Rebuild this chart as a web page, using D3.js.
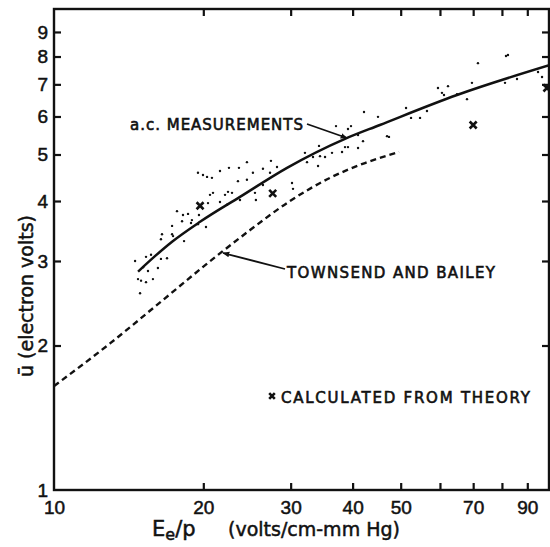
<!DOCTYPE html>
<html>
<head>
<meta charset="utf-8">
<script src="https://cdn.jsdelivr.net/npm/d3@7"></script>
<style>
  body { margin: 0; background: #fff; }
  svg { display: block; font-family: "DejaVu Sans", sans-serif; }
  .axis text { font-size: 19px; fill: #111; stroke: #111; stroke-width: 0.5; }
  .axis path, .axis line { stroke: #111; stroke-width: 2.2; }
  .note { font-size: 15px; fill: #111; stroke: #111; stroke-width: 0.6; }
</style>
</head>
<body>
<svg id="chart" width="550" height="547"></svg>
<script>
// log-log plot of mean electron energy vs E/p

// tick positions and labels
const xTicks = [20, 30, 40, 50, 60, 70, 80, 90];
const xLabels = [10, 20, 30, 40, 50, 70, 90];
const yTicks = [2, 3, 4, 5, 6, 7, 8, 9];
const yLabels = [1, 2, 3, 4, 5, 6, 7, 8, 9];

// a.c. measurements, fitted curve [E/p, u]
const acCurve = [[14.77, 2.85], [15.98, 3.07], [17.30, 3.29], [19.7, 3.62],
  [23.71, 4.08], [29.5, 4.69], [38.61, 5.39], [45.4, 5.76], [64.93, 6.65], [100, 7.68]];

// Townsend and Bailey (dashed)
const townsendBailey = [[10, 1.646], [12.97, 2.02], [16.6, 2.49], [20.92, 3.03], [24.85, 3.48],
  [29.91, 4.00], [36.02, 4.47], [42.36, 4.80], [49.62, 5.06]];

// individual a.c. measurement points
const acPoints = [
  [17.70, 3.81], [18.20, 3.74], [18.63, 3.76], [19.60, 3.74], [17.30, 3.55], [18.12, 3.63],
  [18.89, 3.60], [19.51, 3.58], [20.25, 3.53], [16.51, 3.41], [16.43, 3.33], [17.30, 3.41],
  [17.38, 3.38], [18.29, 3.30], [14.57, 3.00], [15.33, 3.06], [15.69, 3.09], [16.43, 3.03],
  [16.90, 3.04], [15.12, 2.91], [15.47, 2.86], [16.20, 2.90], [14.77, 2.75], [14.98, 2.73],
  [15.33, 2.71], [15.83, 2.75], [14.91, 2.57],
  [19.51, 4.58], [19.97, 4.53], [20.35, 4.49], [20.82, 4.47], [21.61, 4.62], [22.53, 4.69],
  [23.60, 4.69], [24.49, 4.82], [25.18, 4.58], [26.38, 4.67], [27.26, 4.58], [27.38, 4.85],
  [28.16, 4.71], [23.49, 4.40], [24.49, 4.43], [26.38, 4.32], [20.92, 4.16], [20.63, 4.12],
  [22.12, 4.12], [22.43, 4.18], [22.85, 4.16], [23.71, 4.02], [25.42, 4.16], [25.53, 4.02],
  [21.61, 3.98], [22.33, 3.93], [20.44, 3.96], [18.97, 3.65],
  [37.03, 5.73], [39.70, 5.73], [39.15, 5.65], [42.17, 6.13], [45.00, 5.99], [41.02, 5.49],
  [41.98, 5.33], [46.93, 5.46], [34.22, 5.21], [32.06, 5.04], [33.28, 4.94], [34.38, 4.96],
  [35.19, 4.94], [36.35, 5.04], [38.08, 5.06], [38.61, 5.18], [39.15, 5.18], [41.02, 5.16],
  [32.37, 4.82], [34.07, 4.73], [30.19, 4.36], [30.33, 4.24],
  [81.52, 8.02], [82.27, 8.06], [71.57, 7.75], [59.45, 6.88], [62.28, 6.94], [60.56, 6.72],
  [61.13, 6.65], [64.93, 6.68], [69.61, 7.05], [68.02, 6.52], [81.15, 7.05], [85.80, 7.18],
  [96.37, 7.25], [94.59, 7.43], [51.26, 6.25], [52.46, 5.96], [54.70, 5.96], [56.49, 6.16],
  [47.36, 5.44]
];

// calculated from theory (crosses)
const theoryX = [19.7, 27.6, 70, 98.6];
const theoryY = [3.91, 4.15, 5.76, 6.88];

const svg = d3.select('#chart');
const x = d3.scaleLog().domain([10, 100]).range([54, 550]);
const y = d3.scaleLog().domain([1, 10]).range([490, 10]);

// frame
svg.append('rect')
  .attr('x', 54).attr('y', 9).attr('width', 495).attr('height', 481)
  .attr('fill', 'none').attr('stroke', '#111').attr('stroke-width', 2.4);

// axes, ticks pointing inward
svg.append('g').attr('class', 'axis')
  .attr('transform', 'translate(0,490)')
  .call(d3.axisBottom(x).tickValues(xTicks).tickSize(-7).tickFormat(''))
  .call(g => g.select('.domain').remove());
svg.append('g').attr('class', 'axis')
  .attr('transform', 'translate(0,490)')
  .call(d3.axisBottom(x).tickValues(xLabels).tickSize(0).tickPadding(11).tickFormat(d3.format('d')))
  .call(g => g.select('.domain').remove());

svg.append('g').attr('class', 'axis')
  .attr('transform', 'translate(0,9)')
  .call(d3.axisTop(x).tickValues(xTicks).tickSize(-7).tickFormat(''))
  .call(g => g.select('.domain').remove());

svg.append('g').attr('class', 'axis')
  .attr('transform', 'translate(54,0)')
  .call(d3.axisLeft(y).tickValues(yTicks).tickSize(-7).tickFormat(''))
  .call(g => g.select('.domain').remove());
svg.append('g').attr('class', 'axis')
  .attr('transform', 'translate(54,0)')
  .call(d3.axisLeft(y).tickValues(yLabels).tickSize(0).tickPadding(6).tickFormat(d3.format('d')))
  .call(g => g.select('.domain').remove());

svg.append('g').attr('class', 'axis')
  .attr('transform', 'translate(549,0)')
  .call(d3.axisRight(y).tickValues(yTicks).tickSize(-7).tickFormat(''))
  .call(g => g.select('.domain').remove());

// axis titles
svg.append('text')
  .attr('x', 152).attr('y', 536)
  .attr('font-size', 21).attr('fill', '#111').attr('stroke', '#111').attr('stroke-width', 0.5)
  .call(t => {
    t.append('tspan').text('E');
    t.append('tspan').attr('dy', 4).attr('font-size', 16).text('e');
    t.append('tspan').attr('dy', -4).text('/p');
  });
svg.append('text')
  .attr('x', 228).attr('y', 536)
  .attr('font-size', 19).attr('fill', '#111').attr('stroke', '#111').attr('stroke-width', 0.5)
  .text('(volts/cm-mm Hg)');

svg.append('text')
  .attr('transform', 'translate(33,296) rotate(-90)')
  .attr('text-anchor', 'middle')
  .attr('font-size', 19).attr('fill', '#111').attr('stroke', '#111').attr('stroke-width', 0.5)
  .text('\u016B  (electron volts)');

// curves
const line = d3.line()
  .x(d => x(d[0]))
  .y(d => y(d[1]))
  .curve(d3.curveMonotoneX);

svg.append('path')
  .datum(acCurve)
  .attr('d', line)
  .attr('fill', 'none').attr('stroke', '#111').attr('stroke-width', 2.5);

svg.append('path')
  .datum(townsendBailey)
  .attr('d', line)
  .attr('fill', 'none').attr('stroke', '#111').attr('stroke-width', 2.4)
  .attr('stroke-dasharray', '6,4');

// measurement dots
svg.append('g').selectAll('circle')
  .data(acPoints)
  .join('circle')
  .attr('cx', d => x(d[0]))
  .attr('cy', d => y(d[1]))
  .attr('r', 1.2)
  .attr('fill', '#111');

// crosses
function cross(g, cx, cy, s) {
  g.append('path')
    .attr('d', `M${cx - s},${cy - s}L${cx + s},${cy + s}M${cx - s},${cy + s}L${cx + s},${cy - s}`)
    .attr('stroke', '#111').attr('stroke-width', 2.6);
}
const crosses = svg.append('g');
theoryX.forEach((v, i) => cross(crosses, x(v), y(theoryY[i]), 3.5));

// annotations
svg.append('defs').append('marker')
  .attr('id', 'arrow')
  .attr('viewBox', '0 0 10 10')
  .attr('refX', 9).attr('refY', 5)
  .attr('markerWidth', 7).attr('markerHeight', 7)
  .attr('markerUnits', 'userSpaceOnUse')
  .attr('orient', 'auto')
  .append('path').attr('d', 'M0,1L10,5L0,9z').attr('fill', '#111');

svg.append('text').attr('class', 'note')
  .attr('x', 130).attr('y', 130)
  .attr('textLength', 173)
  .text('a.c. MEASUREMENTS');
svg.append('line')
  .attr('x1', 307).attr('y1', 124).attr('x2', 347).attr('y2', 138)
  .attr('stroke', '#111').attr('stroke-width', 1.8)
  .attr('marker-end', 'url(#arrow)');

svg.append('text').attr('class', 'note')
  .attr('x', 287).attr('y', 278)
  .attr('textLength', 208)
  .text('TOWNSEND AND BAILEY');
svg.append('line')
  .attr('x1', 285).attr('y1', 269).attr('x2', 223).attr('y2', 253)
  .attr('stroke', '#111').attr('stroke-width', 1.8)
  .attr('marker-end', 'url(#arrow)');

cross(svg, 272, 396, 2.8);
svg.append('text').attr('class', 'note')
  .attr('x', 281).attr('y', 403)
  .attr('textLength', 249)
  .text('CALCULATED FROM  THEORY');
</script>
</body>
</html>
